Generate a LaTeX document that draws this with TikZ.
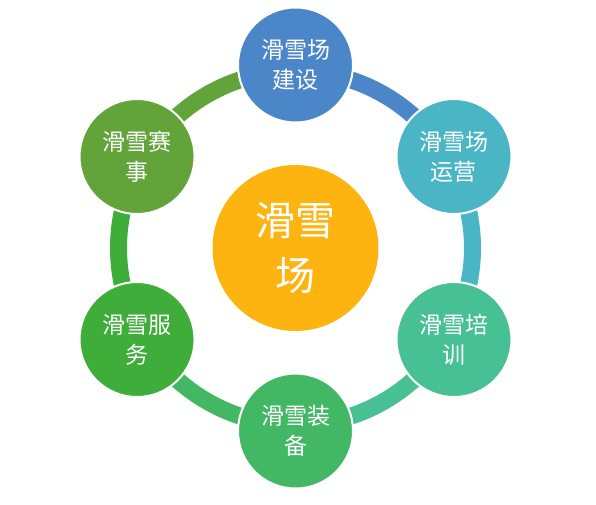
\documentclass[tikz,border=0pt]{standalone}
\usepackage{fontspec}
\newfontfamily\cjk{Noto Sans CJK SC}
\usetikzlibrary{backgrounds,calc}
\definecolor{cA}{HTML}{4A86C8}
\definecolor{cB}{HTML}{4AB5C4}
\definecolor{cC}{HTML}{47C094}
\definecolor{cD}{HTML}{42B764}
\definecolor{cE}{HTML}{3FAD3A}
\definecolor{cF}{HTML}{62A33A}
\definecolor{cHub}{HTML}{FDB410}
\begin{document}
\begin{tikzpicture}[x=1pt,y=1pt,
  outer/.style={circle,minimum size=115pt,inner sep=0pt,draw=white,line width=2pt,text=white,
    font=\cjk\fontsize{23}{30}\selectfont,align=center},
  hubstyle/.style={circle,minimum size=166pt,inner sep=0pt,fill=cHub,text=white,
    font=\cjk\fontsize{40}{55}\selectfont,align=center},
  seg/.style={line width=17pt}]
\useasboundingbox (0,0) rectangle (596,504);
\node[hubstyle] (hub) at (295.5,256) {滑雪\\场};
\node[outer,fill=cA] (n1) at ($(hub.center)+(90:183)$) {滑雪场\\建设};
\node[outer,fill=cB] (n2) at ($(hub.center)+(30:183)$) {滑雪场\\运营};
\node[outer,fill=cC] (n3) at ($(hub.center)+(-30:183)$) {滑雪培\\训};
\node[outer,fill=cD] (n4) at ($(hub.center)+(-90:183)$) {滑雪装\\备};
\node[outer,fill=cE] (n5) at ($(hub.center)+(-150:183)$) {滑雪服\\务};
\node[outer,fill=cF] (n6) at ($(hub.center)+(150:183)$) {滑雪赛\\事};
\begin{scope}[on background layer]
\draw[seg,cA] ($(hub.center)+(90:177)$) arc[start angle=90,end angle=30,radius=177];
\draw[seg,cB] ($(hub.center)+(30:177)$) arc[start angle=30,end angle=-30,radius=177];
\draw[seg,cC] ($(hub.center)+(-30:177)$) arc[start angle=-30,end angle=-90,radius=177];
\draw[seg,cD] ($(hub.center)+(-90:177)$) arc[start angle=-90,end angle=-150,radius=177];
\draw[seg,cE] ($(hub.center)+(-150:177)$) arc[start angle=-150,end angle=-210,radius=177];
\draw[seg,cF] ($(hub.center)+(150:177)$) arc[start angle=150,end angle=90,radius=177];
\end{scope}
\end{tikzpicture}
\end{document}
